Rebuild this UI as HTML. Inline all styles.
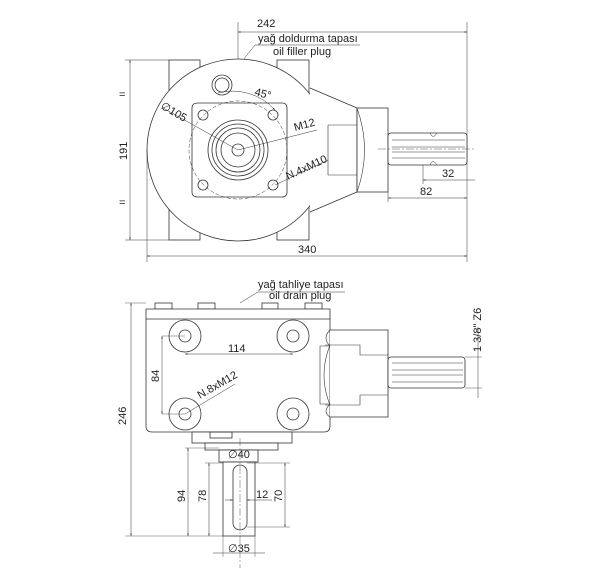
<!DOCTYPE html>
<html><head><meta charset="utf-8"><style>
html,body{margin:0;padding:0;background:#fff}
svg{display:block}
text{font-family:"Liberation Sans",sans-serif;font-size:11px;fill:#222}
</style></head><body>
<svg width="600" height="577" viewBox="0 0 600 577" xmlns="http://www.w3.org/2000/svg">
<defs>
<marker id="a" viewBox="0 0 10 10" refX="10" refY="5" markerWidth="7" markerHeight="5" orient="auto-start-reverse"><path d="M0,2 L10,5 L0,8z" fill="#333"/></marker>
</defs>
<g fill="none" stroke="#333" stroke-width="0.8">
<!-- TOP VIEW -->
<line x1="238" y1="22" x2="238" y2="150" stroke-width="0.5"/>
<line x1="467" y1="22" x2="467" y2="200" stroke-width="0.5"/>
<line x1="238" y1="32" x2="467" y2="32" marker-start="url(#a)" marker-end="url(#a)" stroke-width="0.5"/>
<line x1="255" y1="45" x2="360" y2="45" stroke-width="0.5"/>
<line x1="255" y1="45" x2="224" y2="84" stroke-width="0.5"/>
<!-- feet -->
<rect x="169" y="60" width="31" height="180"/>
<rect x="277" y="60" width="32" height="180"/>
<circle cx="238" cy="150" r="91" fill="#fff"/>
<!-- housing right -->
<path d="M310 88 L357 108 L357 192 L310 212" fill="#fff"/>
<rect x="357" y="108" width="31" height="84" fill="#fff"/>
<path d="M328 125 L357 125 M328 175 L357 175 M328 125 L328 175" stroke-width="0.6"/>
<path d="M357 108 Q372 150 357 192" stroke-width="0.6"/>
<rect x="388" y="133" width="79" height="32" rx="3" fill="#fff"/>
<path d="M392 140 L465 140 M392 158 L465 158 M392 147 L465 147 M392 152 L465 152" stroke-width="0.5"/>
<path d="M430 133 Q433 140 437 133 M430 165 Q433 158 437 165" stroke-width="0.5"/>
<line x1="378" y1="149" x2="475" y2="149" stroke-dasharray="8 2 2 2" stroke-width="0.4"/>
<circle cx="222" cy="85" r="10"/><circle cx="222" cy="85" r="7"/>
<!-- flange -->
<path d="M198 103 L282 103 Q287 103 287 108 L287 192 Q287 197 282 197 L198 197 Q192 197 192 192 L192 108 Q192 103 198 103z" fill="#fff"/>
<circle cx="238" cy="150" r="49" stroke-dasharray="4 2" stroke-width="0.5"/>
<circle cx="203" cy="115" r="5"/><circle cx="273" cy="115" r="5"/>
<circle cx="203" cy="185" r="5"/><circle cx="273" cy="185" r="5"/>
<circle cx="238" cy="150" r="30"/><circle cx="238" cy="150" r="26"/>
<circle cx="238" cy="150" r="22"/><circle cx="238" cy="150" r="17"/>
<circle cx="238" cy="150" r="6"/>
<path d="M218 93 A57 57 0 0 1 275 110" stroke-width="0.5" marker-end="url(#a)"/>
<line x1="163" y1="108" x2="238" y2="150" stroke-width="0.5"/>
<line x1="238" y1="150" x2="317" y2="130" stroke-width="0.5"/>
<line x1="275" y1="185" x2="328" y2="160" stroke-width="0.5"/>
<!-- dims -->
<line x1="125" y1="60" x2="169" y2="60" stroke-width="0.5"/>
<line x1="125" y1="240" x2="169" y2="240" stroke-width="0.5"/>
<line x1="130" y1="60" x2="130" y2="240" marker-start="url(#a)" marker-end="url(#a)" stroke-width="0.5"/>
<line x1="147" y1="150" x2="147" y2="262" stroke-width="0.5"/>
<line x1="147" y1="256" x2="467" y2="256" marker-start="url(#a)" marker-end="url(#a)" stroke-width="0.5"/>
<line x1="467" y1="200" x2="467" y2="262" stroke-width="0.5"/>
<line x1="388" y1="192" x2="388" y2="202" stroke-width="0.5"/>
<line x1="388" y1="198" x2="467" y2="198" marker-start="url(#a)" marker-end="url(#a)" stroke-width="0.5"/>
<line x1="423" y1="165" x2="423" y2="184" stroke-width="0.5"/>
<line x1="423" y1="180" x2="475" y2="180" stroke-width="0.5" marker-start="url(#a)"/>

<!-- BOTTOM VIEW -->
<line x1="258" y1="292" x2="345" y2="292" stroke-width="0.5"/>
<line x1="258" y1="292" x2="240" y2="303" stroke-width="0.5"/>
<rect x="155" y="303" width="17" height="6"/><rect x="198" y="303" width="17" height="6"/>
<rect x="262" y="303" width="16" height="6"/><rect x="305" y="303" width="17" height="6"/>
<path d="M146 309 L330 309 L330 426 Q330 432 324 432 L152 432 Q146 432 146 426 Z" fill="#fff"/>
<line x1="146" y1="319" x2="330" y2="319"/>
<circle cx="185" cy="336" r="16"/><circle cx="185" cy="336" r="6"/>
<circle cx="293" cy="336" r="16"/><circle cx="293" cy="336" r="6"/>
<circle cx="185" cy="414" r="16"/><circle cx="185" cy="414" r="6"/>
<circle cx="293" cy="414" r="16"/><circle cx="293" cy="414" r="6"/>
<line x1="185" y1="354" x2="293" y2="354" marker-start="url(#a)" marker-end="url(#a)" stroke-width="0.5"/>
<line x1="162" y1="336" x2="162" y2="414" marker-start="url(#a)" marker-end="url(#a)" stroke-width="0.5"/>
<line x1="162" y1="336" x2="185" y2="336" stroke-width="0.4"/>
<line x1="162" y1="414" x2="185" y2="414" stroke-width="0.4"/>
<line x1="185" y1="414" x2="235" y2="384" stroke-width="0.5"/>
<!-- right extension -->
<path d="M330 330 Q322 338 330 346 L320 346 L320 404 L330 404 Q322 412 330 417" stroke-width="0.6"/>
<path d="M330 330 L388 330 L388 417 L330 417" fill="#fff"/>
<path d="M325 345 L360 345 L360 355 L388 355 M325 405 L360 405 L360 395 L388 395" stroke-width="0.6"/>
<path d="M330 345 Q318 375 330 405" stroke-width="0.6"/>
<rect x="388" y="357" width="77" height="31" rx="3" fill="#fff"/>
<path d="M392 363 L463 363 M392 382 L463 382 M392 370 L463 370 M392 375 L463 375" stroke-width="0.5"/>
<line x1="465" y1="357" x2="482" y2="357" stroke-width="0.4"/>
<line x1="465" y1="388" x2="482" y2="388" stroke-width="0.4"/>
<line x1="478" y1="327" x2="478" y2="398" stroke-width="0.5"/>
<!-- bottom shaft -->
<rect x="192" y="432" width="100" height="11" fill="#fff"/>
<rect x="210" y="432" width="22" height="6"/>
<rect x="205" y="443" width="73" height="7" fill="#fff"/>
<rect x="219" y="450" width="39" height="12" fill="#fff"/>
<rect x="223" y="462" width="32" height="74" fill="#fff"/>
<rect x="233" y="465" width="14" height="65" rx="7"/>
<line x1="240" y1="438" x2="240" y2="568" stroke-dasharray="8 2 2 2" stroke-width="0.4"/>
<line x1="125" y1="303" x2="146" y2="303" stroke-width="0.4"/>
<line x1="125" y1="536" x2="223" y2="536" stroke-width="0.4"/>
<line x1="131" y1="303" x2="131" y2="536" marker-start="url(#a)" marker-end="url(#a)" stroke-width="0.5"/>
<line x1="185" y1="448" x2="219" y2="448" stroke-width="0.4"/>
<line x1="188" y1="448" x2="188" y2="536" marker-start="url(#a)" marker-end="url(#a)" stroke-width="0.5"/>
<line x1="205" y1="463" x2="223" y2="463" stroke-width="0.4"/>
<line x1="209" y1="463" x2="209" y2="536" marker-start="url(#a)" marker-end="url(#a)" stroke-width="0.5"/>
<line x1="247" y1="463" x2="290" y2="463" stroke-width="0.4"/>
<line x1="247" y1="527" x2="290" y2="527" stroke-width="0.4"/>
<line x1="285" y1="463" x2="285" y2="527" marker-start="url(#a)" marker-end="url(#a)" stroke-width="0.5"/>
<line x1="225" y1="500" x2="233" y2="500" marker-end="url(#a)" stroke-width="0.5"/>
<line x1="247" y1="500" x2="272" y2="500" marker-start="url(#a)" stroke-width="0.5"/>
<line x1="223" y1="536" x2="223" y2="557" stroke-width="0.4"/>
<line x1="255" y1="536" x2="255" y2="557" stroke-width="0.4"/>
<line x1="213" y1="553" x2="265" y2="553" stroke-width="0.5"/>
</g>
<g>
<text x="257" y="27">242</text>
<text x="258" y="42">yağ doldurma tapası</text>
<text x="273" y="55">oil filler plug</text>
<text x="254" y="95" transform="rotate(15 254 95)" font-size="10">45°</text>
<text x="160" y="108" transform="rotate(30 160 108)">∅105</text>
<text x="295" y="131" transform="rotate(-15 295 131)">M12</text>
<text x="288" y="180" transform="rotate(-25 288 180)">N.4xM10</text>
<text x="442" y="177">32</text>
<text x="420" y="195">82</text>
<text x="298" y="253">340</text>
<text x="127" y="160" transform="rotate(-90 127 160)">191</text>
<text x="119" y="98">=</text><text x="119" y="206">=</text>
<text x="258" y="288">yağ tahliye tapası</text>
<text x="269" y="299">oil drain plug</text>
<text x="228" y="352">114</text>
<text x="159" y="382" transform="rotate(-90 159 382)">84</text>
<text x="200" y="399" transform="rotate(-30 200 399)">N.8xM12</text>
<text x="481" y="352" transform="rotate(-90 481 352)" font-size="10">1 3/8" Z6</text>
<text x="126" y="425" transform="rotate(-90 126 425)">246</text>
<text x="228" y="458">∅40</text>
<text x="185" y="502" transform="rotate(-90 185 502)">94</text>
<text x="206" y="502" transform="rotate(-90 206 502)">78</text>
<text x="256" y="498">12</text>
<text x="282" y="502" transform="rotate(-90 282 502)">70</text>
<text x="228" y="552">∅35</text>
</g>
</svg>
</body></html>
